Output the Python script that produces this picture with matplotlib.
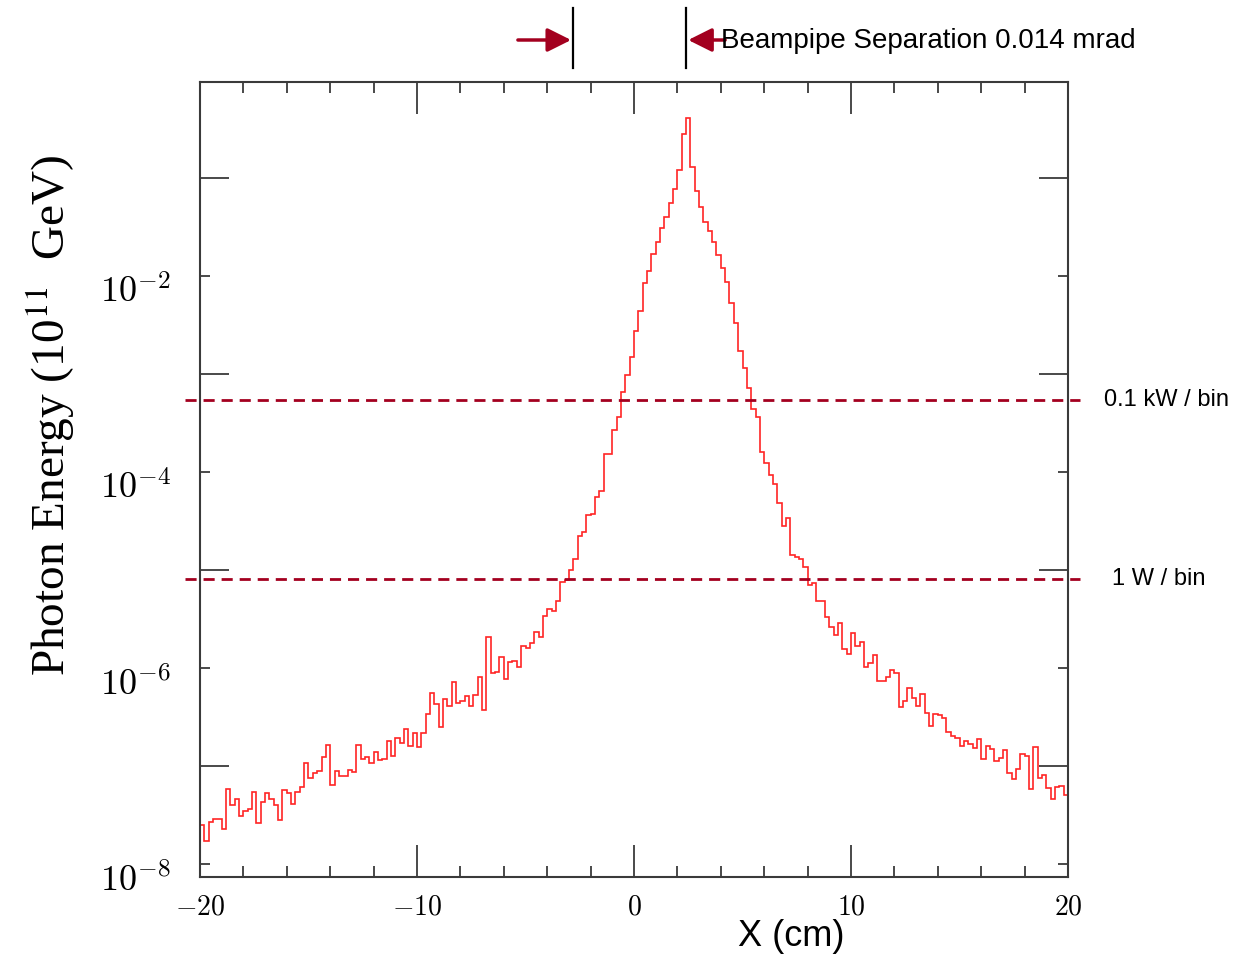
import matplotlib
matplotlib.use('Agg')
import matplotlib.pyplot as plt
import matplotlib.transforms as mtransforms
from matplotlib.ticker import NullFormatter
import numpy as np

# photon energy per 0.2 cm bin from x = -20 cm to x = 20 cm (units of 1e11 GeV)
energy = [
    2.5e-8, 1.7e-8, 2.7e-8, 2.9e-8, 2.9e-8, 2.3e-8, 5.8e-8, 4.0e-8, 4.6e-8, 3.1e-8,
    3.5e-8, 3.6e-8, 5.4e-8, 2.6e-8, 4.3e-8, 5.3e-8, 4.6e-8, 4.0e-8, 2.8e-8, 5.7e-8,
    5.3e-8, 4.1e-8, 5.4e-8, 6.1e-8, 1.07e-7, 7.5e-8, 8.5e-8, 8.9e-8, 1.24e-7, 1.64e-7,
    6.4e-8, 8.9e-8, 7.9e-8, 7.9e-8, 9.1e-8, 8.7e-8, 1.64e-7, 1.18e-7, 1.24e-7, 1.07e-7,
    1.39e-7, 1.15e-7, 1.18e-7, 1.80e-7, 1.26e-7, 1.93e-7, 1.72e-7, 2.39e-7, 1.60e-7, 2.17e-7,
    1.56e-7, 2.17e-7, 3.4e-7, 5.6e-7, 4.3e-7, 2.5e-7, 4.8e-7, 4.1e-7, 7.2e-7, 4.4e-7,
    4.6e-7, 5.2e-7, 4.1e-7, 5.3e-7, 8.1e-7, 3.7e-7, 2.07e-6, 8.9e-7, 9.1e-7, 1.29e-6,
    7.7e-7, 1.15e-6, 1.18e-6, 1.02e-6, 1.67e-6, 1.60e-6, 1.80e-6, 2.33e-6, 2.07e-6, 3.4e-6,
    4.0e-6, 3.8e-6, 4.8e-6, 7.5e-6, 7.9e-6, 1.0e-5, 1.29e-5, 2.22e-5, 2.44e-5, 3.6e-5,
    3.7e-5, 5.6e-5, 6.4e-5, 1.53e-4, 1.53e-4, 2.68e-4, 3.6e-4, 6.5e-4, 9.8e-4, 1.49e-3,
    2.75e-3, 4.4e-3, 8.5e-3, 1.12e-2, 1.68e-2, 2.22e-2, 3.1e-2, 4.0e-2, 5.6e-2, 7.7e-2,
    0.121, 0.281, 0.409, 0.129, 7.4e-2, 5.1e-2, 3.6e-2, 2.88e-2, 2.22e-2, 1.64e-2,
    1.21e-2, 8.7e-3, 5.3e-3, 3.3e-3, 1.72e-3, 1.15e-3, 7.2e-4, 4.4e-4, 3.6e-4, 1.60e-4,
    1.24e-4, 9.3e-5, 7.5e-5, 4.8e-5, 2.81e-5, 3.4e-5, 1.42e-5, 1.36e-5, 1.29e-5, 1.07e-5,
    7.0e-6, 7.4e-6, 4.8e-6, 4.8e-6, 3.3e-6, 2.62e-6, 2.17e-6, 2.88e-6, 1.56e-6, 1.39e-6,
    2.28e-6, 1.67e-6, 1.84e-6, 1.02e-6, 1.12e-6, 1.36e-6, 7.4e-7, 7.4e-7, 8.1e-7, 9.5e-7,
    8.9e-7, 4.0e-7, 4.6e-7, 6.3e-7, 4.9e-7, 4.1e-7, 5.4e-7, 3.5e-7, 2.56e-7, 3.4e-7,
    3.3e-7, 3.1e-7, 2.22e-7, 2.02e-7, 1.93e-7, 1.60e-7, 1.80e-7, 1.68e-7, 1.53e-7, 1.89e-7,
    1.18e-7, 1.60e-7, 1.49e-7, 1.12e-7, 1.21e-7, 1.46e-7, 8.5e-8, 7.4e-8, 9.3e-8, 1.32e-7,
    1.26e-7, 5.8e-8, 1.56e-7, 7.5e-8, 8.1e-8, 5.9e-8, 4.6e-8, 6.1e-8, 6.2e-8, 5.0e-8,
]
x_range = (-20, 20)

x_ticks = [-20, -10, 0, 10, 20]
x_tick_labels = [r'$-20$', r'$-10$', r'$0$', r'$10$', r'$20$']
y_ticks = [1e-8, 1e-6, 1e-4, 1e-2]
y_tick_labels = [r'$10^{-8}$', r'$10^{-6}$', r'$10^{-4}$', r'$10^{-2}$']
y_long_ticks = [1e-7, 1e-5, 1e-3, 1e-1]

# power thresholds drawn as dashed lines
power_levels = [5.4e-4, 8.1e-6]
power_labels = ['0.1 kW / bin', '1 W / bin']

# beampipe edges (cm)
pipe_edges = [-2.8, 2.4]

dark_red = '#a3001f'

plt.rcParams['mathtext.fontset'] = 'cm'

fig = plt.figure(figsize=(12.49, 9.6), dpi=100)
ax = fig.add_axes([200 / 1249, 83 / 960, 868 / 1249, 795 / 960])

edges = np.linspace(x_range[0], x_range[1], len(energy) + 1)
ax.stairs(energy, edges, baseline=1e-9, color='#ff2525', lw=1.2)

ax.set_yscale('log')
ax.set_xlim(*x_range)
ax.set_ylim(10 ** -8.133, 10 ** -0.02)

ax.set_xticks(x_ticks, x_tick_labels)
ax.set_xticks(np.arange(-20, 21, 2), minor=True)
ax.set_yticks(y_ticks, y_tick_labels)
ax.set_yticks(y_long_ticks, minor=True)
ax.yaxis.set_minor_formatter(NullFormatter())

for sp in ax.spines.values():
    sp.set_color('#3a3a3a')
    sp.set_linewidth(1.5)

ax.tick_params(which='both', direction='in', top=True, right=True,
               color='#3a3a3a', width=1.3, labelcolor='black')
ax.tick_params(axis='x', which='major', length=23, labelsize=20, pad=11)
ax.tick_params(axis='x', which='minor', length=8)
ax.tick_params(axis='y', which='major', length=7, labelsize=26, pad=21)
ax.tick_params(axis='y', which='minor', length=21)

# labels sit a bit below their ticks
shift = mtransforms.ScaledTranslation(0, -0.13, fig.dpi_scale_trans)
for lbl in ax.get_yticklabels():
    lbl.set_transform(lbl.get_transform() + shift)

# power level lines with labels on the right
trans_h = mtransforms.blended_transform_factory(ax.transAxes, ax.transData)
label_x = [1.0415, 1.0507]
for lvl, txt, lx in zip(power_levels, power_labels, label_x):
    ax.plot([-0.017, 1.014], [lvl, lvl], transform=trans_h, clip_on=False,
            color=dark_red, lw=2.0, ls=(0, (4, 2.5)))
    ax.text(lx, lvl, txt, transform=trans_h, va='center', ha='left',
            fontsize=17, family='Liberation Sans')

# beampipe separation marker above the plot
trans_top = mtransforms.blended_transform_factory(ax.transData, fig.transFigure)
for xe in pipe_edges:
    ax.plot([xe, xe], [1 - 68 / 960, 1 - 8 / 960], transform=trans_top,
            color='black', lw=1.6, clip_on=False)
arrow_y = 1 - 40 / 960
ax.annotate('', xy=(pipe_edges[0] - 0.1, arrow_y), xytext=(-5.35, arrow_y),
            xycoords=trans_top, textcoords=trans_top,
            arrowprops=dict(arrowstyle='-|>,head_length=0.6,head_width=0.3',
                            color=dark_red, lw=2.5,
                            mutation_scale=24, shrinkA=0, shrinkB=0))
ax.annotate('', xy=(pipe_edges[1] + 0.1, arrow_y), xytext=(4.2, arrow_y),
            xycoords=trans_top, textcoords=trans_top,
            arrowprops=dict(arrowstyle='-|>,head_length=0.6,head_width=0.3',
                            color=dark_red, lw=2.5,
                            mutation_scale=24, shrinkA=0, shrinkB=0))
fig.text(721 / 1249, 1 - 41 / 960, 'Beampipe Separation 0.014 mrad',
         fontsize=20, family='Liberation Sans', va='center', ha='left')

fig.text(791 / 1249, 1 - 937 / 960, 'X (cm)', fontsize=26,
         family='Liberation Sans', ha='center', va='center')
fig.text(50 / 1249, 1 - 415 / 960, r'Photon Energy (10$^{11}$  GeV)',
         fontsize=34, family='Liberation Serif', math_fontfamily='stix',
         rotation=90, ha='center', va='center')

fig.savefig('out.png', dpi=100)
